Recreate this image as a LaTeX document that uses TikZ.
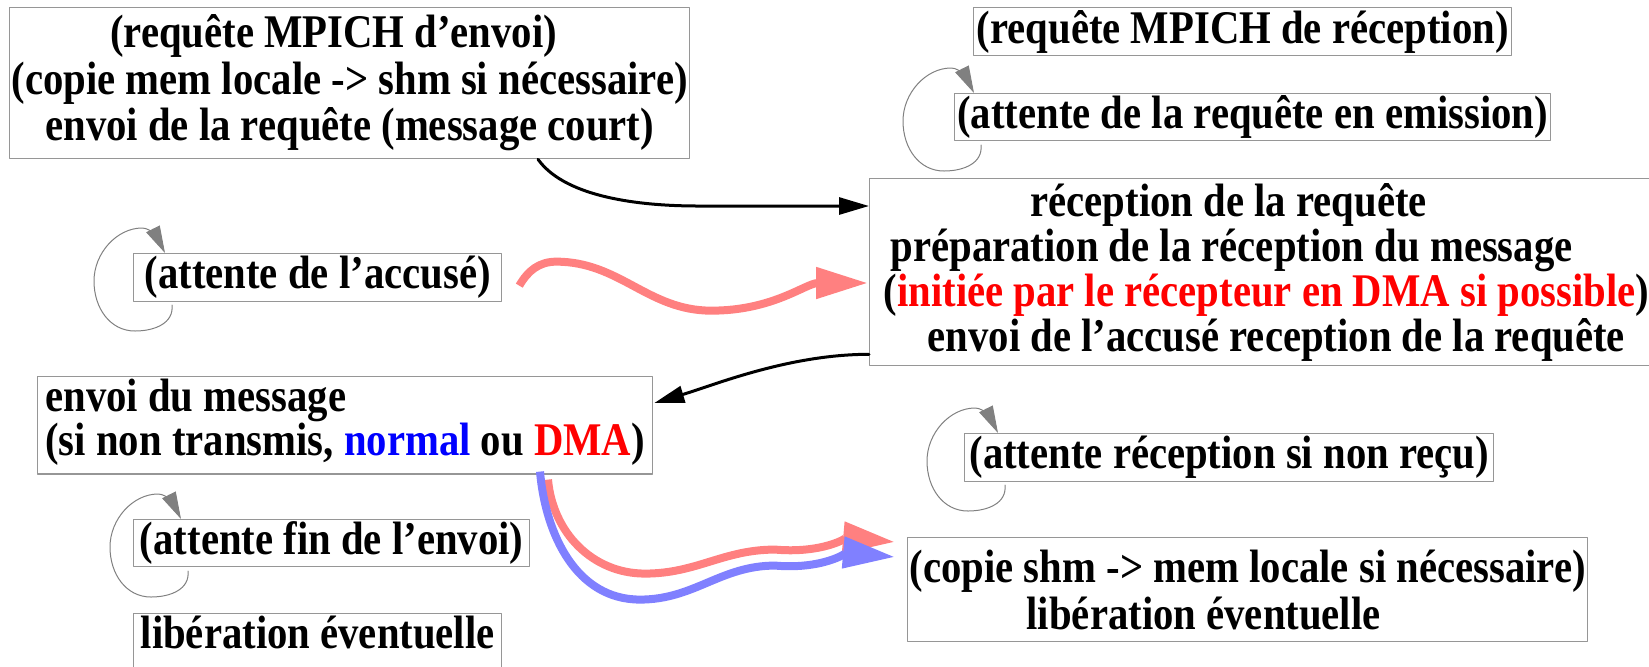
\documentclass[tikz,border=0pt]{standalone}
\usepackage{fontspec}
\setmainfont{Liberation Serif}[FakeStretch=0.87]
\usetikzlibrary{arrows.meta,calc}
\definecolor{bord}{RGB}{150,150,150}
\definecolor{rose}{RGB}{255,128,128}
\definecolor{bleu}{RGB}{128,128,255}
\newcommand{\corps}{\fontsize{23.4pt}{23.25pt}\selectfont\bfseries}

\begin{document}
\begin{tikzpicture}[x=0.5pt,y=0.5pt,line join=round,line cap=round]
	\tikzset{boite/.style={draw=bord,line width=0.65pt,anchor=north west,inner sep=1pt,align=center,font=\corps},
		fleche/.style={line width=1.5pt,-{Triangle[length=15pt,width=8.5pt]}},
		onde/.style={line width=4pt,line cap=butt,-{Triangle[length=26pt,width=15pt]}},
		boucle/.style={gray,line width=0.5pt,-{Triangle[length=13.5pt,width=7.5pt]}}}
	\useasboundingbox (0,0) rectangle (1649,-666);
	% cote emetteur
	\node[boite,minimum width=336pt,minimum height=75.5pt] (A) at (9,-7) {(requête MPICH d’envoi)\hspace*{16pt}\\(copie mem locale -> shm si nécessaire)\\envoi de la requête (message court)};
	\node[boite,minimum width=184pt,minimum height=24pt] (F) at (133,-253) {(attente de l’accusé)};
	\node[boite,align=left,minimum width=307.5pt,minimum height=42.5pt,text depth=8pt,font=\fontsize{23.4pt}{20pt}\selectfont\bfseries] (D) at (37,-376) {envoi du message\\(si non transmis, \textcolor{blue}{normal} ou \textcolor{red}{DMA})};
	\node[boite,minimum width=198pt,minimum height=23.5pt] (G) at (133,-519) {(attente fin de l’envoi)};
	\node[boite,minimum width=184pt,minimum height=31pt,text height=14pt,text depth=10pt] (H) at (133,-613) {libération éventuelle};
	% cote recepteur
	\node[boite,minimum width=269pt,minimum height=24pt] (B) at (973,-7) {(requête MPICH de réception)};
	\node[boite,minimum width=298pt,minimum height=23.5pt] (E) at (954,-93) {(attente de la requête en emission)};
	\node[boite,align=left,minimum width=388pt,minimum height=93.5pt,font=\fontsize{23.4pt}{22.5pt}\selectfont\bfseries] (C) at (869,-178) {\hspace*{79.5pt}réception de la requête\\\hspace*{9.5pt}préparation de la réception du message\\\hspace*{6pt}(\textcolor{red}{initiée par le récepteur en DMA si possible})\\\hspace*{28pt}envoi de l’accusé reception de la requête};
	\node[boite,minimum width=264.5pt,minimum height=24pt] (I) at (964,-433) {(attente réception si non reçu)};
	\node[boite,align=left,minimum width=340pt,minimum height=52pt,font=\fontsize{23.4pt}{23.5pt}\selectfont\bfseries] (J) at (907,-537) {(copie shm -> mem locale si nécessaire)\\\hspace*{58.5pt}libération éventuelle};
	% messages
	\draw[fleche] ($(A.south west)+(529,0)$) .. controls +(25,-35) and +(-70,0) .. ($(C.north west)+(-170,-28)$) -- ($(C.north west)+(0,-28)$);
	\draw[fleche] ($(C.south west)+(0,12)$) .. controls +(-80,0) and +(60,18) .. ($(D.north east)+(1,-27)$);
	\draw[onde,rose] ($(F.east)+(17,-8)$) to[out=60,in=180] ++(37,24) to[out=0,in=180] ++(155,-49) to[out=0,in=180] ($(C.north west)+(-1,-105)$);
	\draw[onde,rose] ($(D.south west)+(511,-5)$) to[out=-85,in=180] ++(97,-94) to[out=0,in=180] ++(130,24) to[out=-5,in=175] ($(J.north west)+(-12,-5)$);
	\draw[onde,bleu] ($(D.south west)+(503,3)$) to[out=-85,in=180] ++(100,-128) to[out=0,in=180] ++(135,34) to[out=-5,in=175] ($(J.north west)+(-12,-20)$);
	% attentes
	\foreach \nom/\dx in {E/20,F/32,G/48,I/34}
	\draw[boucle] ($(\nom.north west)+(\dx+7,-52)$) .. controls +(2,-18) and +(20,0) .. ($(\nom.north west)+(\dx-30,-78)$) .. controls +(-25,0) and +(0,-27) .. ($(\nom.north west)+(\dx-71,-28)$) .. controls +(0,28) and +(-25,0) .. ($(\nom.north west)+(\dx-23,25)$) .. controls +(10,0) and +(-6,12) .. ($(\nom.north west)+(\dx,0)$);
\end{tikzpicture}
\end{document}
